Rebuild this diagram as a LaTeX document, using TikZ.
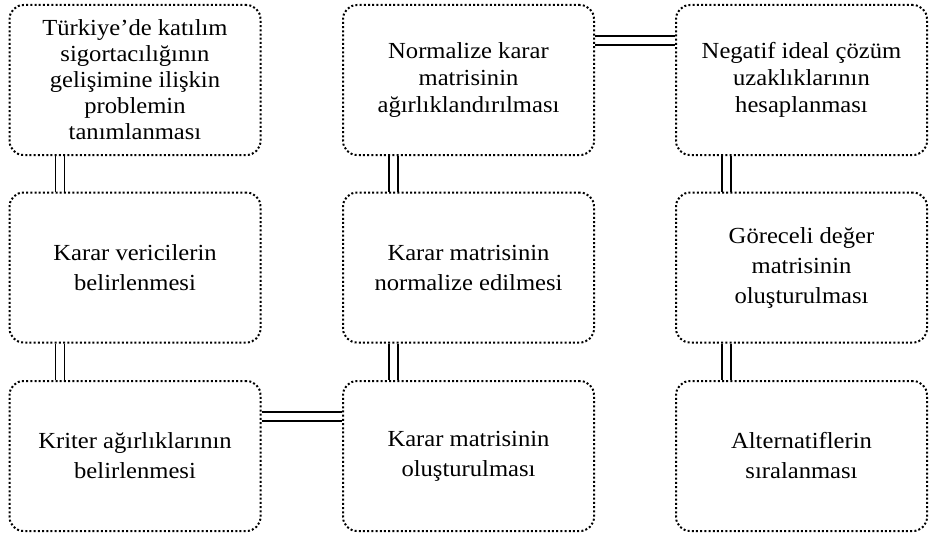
\documentclass[tikz,border=0pt]{standalone}
\usepackage{fontspec}
\setmainfont[FakeStretch=1.07]{Liberation Serif}
\begin{document}
\begin{tikzpicture}[x=1pt,y=-1pt,
  box/.style={draw, line width=2pt, dash pattern=on 2pt off 2.2pt, rounded corners=14pt,
    minimum width=251pt, minimum height=150pt, align=center, inner sep=0pt,
    font=\fontsize{23}{30}\selectfont},
  tight/.style={font=\fontsize{23}{26}\selectfont},
  mid/.style={font=\fontsize{23}{27}\selectfont},
  link/.style={line width=1.1pt}]
\useasboundingbox (0,0) rectangle (929,535);
\node[box,tight] (c11) at (135,80) {Türkiye’de katılım\\sigortacılığının\\gelişimine ilişkin\\problemin\\tanımlanması};
\node[box] (c12) at (135,267.5) {Karar vericilerin\\belirlenmesi};
\node[box] (c13) at (135,456) {Kriter ağırlıklarının\\belirlenmesi};
\node[box,mid] (c21) at (468.5,80) {Normalize karar\\matrisinin\\ağırlıklandırılması};
\node[box] (c22) at (468.5,267.5) {Karar matrisinin\\normalize edilmesi};
\node[box] (c23) at (468.5,456) {Karar matrisinin\\oluşturulması};
\node[box,mid] (c31) at (801.5,80) {Negatif ideal çözüm\\uzaklıklarının\\hesaplanması};
\node[box] (c32) at (801.5,267.5) {Göreceli değer\\matrisinin\\oluşturulması};
\node[box] (c33) at (801.5,456) {Alternatiflerin\\sıralanması};
\foreach \a/\b in {c11/c12,c12/c13,c21/c22,c22/c23,c31/c32,c32/c33}{
  \draw[link] ([xshift=47pt]\a.south west) -- ([xshift=47pt]\b.north west);
  \draw[link] ([xshift=56pt]\a.south west) -- ([xshift=56pt]\b.north west);
}
\foreach \a/\b in {c13/c23,c21/c31}{
  \draw[link] ([yshift=-32pt]\a.north east) -- ([yshift=-32pt]\b.north west);
  \draw[link] ([yshift=-41pt]\a.north east) -- ([yshift=-41pt]\b.north west);
}
\end{tikzpicture}
\end{document}
